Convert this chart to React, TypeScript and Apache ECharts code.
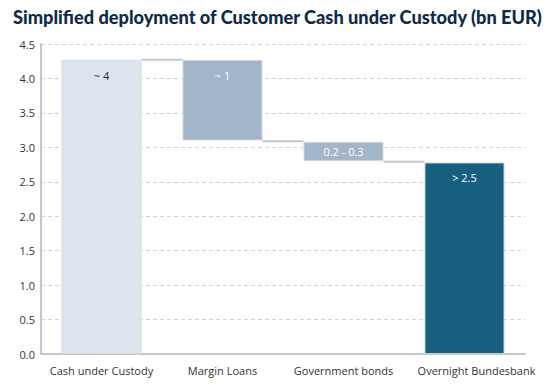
import React, { useEffect, useRef } from "react";
import * as echarts from "echarts";

const categories = ["Cash under Custody", "Margin Loans", "Government bonds", "Overnight Bundesbank"];
const baseValues = [0, 3.1, 2.8, 0];
const barValues = [4.27, 1.17, 0.28, 2.78];
const barLabels = ["~ 4", "~ 1", "0.2 - 0.3", "> 2.5"];
const connectorLevels = [4.27, 3.09, 2.79];
const yTicks = { min: 0, max: 4.5, interval: 0.5 };

const barColors = ["#dde5ee", "#a2b5c9", "#a2b5c9", "#165f80"];
const labelColors = ["#1f2d3d", "#ffffff", "#ffffff", "#ffffff"];

export default function App() {
  const ref = useRef<HTMLDivElement>(null);
  useEffect(() => {
    if (!ref.current) return;
    const chart = echarts.init(ref.current, null, { renderer: "svg" });
    const BW = 80;
    chart.setOption({
      animation: false,
      title: {
        text: "Simplified deployment of Customer Cash under Custody (bn EUR)",
        left: 8,
        top: 3,
        textStyle: { fontFamily: "Lato", fontWeight: 900, fontSize: 18.2, color: "#0e2a47" },
      },
      grid: { left: 41, right: 24, top: 44, bottom: 32, containLabel: false },
      xAxis: {
        type: "category",
        data: categories.map((c, i) =>
          i === categories.length - 1 ? { value: c, textStyle: { padding: [0, 0, 0, 24] } } : c
        ),
        axisLine: { lineStyle: { color: "#c4c7cc", width: 2 } },
        axisTick: { show: false },
        axisLabel: { color: "#333", fontSize: 11, fontFamily: "Open Sans", margin: 11, interval: 0 },
      },
      yAxis: {
        type: "value",
        min: yTicks.min,
        max: yTicks.max,
        interval: yTicks.interval,
        axisLine: { show: true, lineStyle: { color: "#c4c7cc", width: 2 } },
        axisTick: { show: false },
        axisLabel: {
          color: "#333",
          fontSize: 11,
          fontFamily: "Open Sans",
          margin: 6,
          formatter: (v: number) => v.toFixed(1),
        },
        splitLine: { lineStyle: { color: "#cfd2d6", type: [4, 3], width: 1 } },
      },
      series: [
        {
          type: "bar",
          stack: "w",
          barWidth: BW,
          silent: true,
          itemStyle: { color: "transparent" },
          data: baseValues,
        },
        {
          type: "bar",
          stack: "w",
          barWidth: BW,
          data: barValues.map((v, i) => ({
            value: v,
            itemStyle: {
              color: barColors[i],
              borderColor: i === 3 ? "#c9ced4" : "#d4d9df",
              borderWidth: 1,
            },
            label: {
              show: true,
              position: i === 2 ? "inside" : "insideTop",
              distance: 10,
              formatter: barLabels[i],
              color: labelColors[i],
              fontSize: 11,
              fontFamily: "Open Sans",
            },
          })),
        },
        {
          type: "custom",
          silent: true,
          data: connectorLevels.map((lv, i) => [i, lv]),
          renderItem: (params: any, api: any) => {
            const i = api.value(0);
            const lv = api.value(1);
            const p1 = api.coord([i, lv]);
            const p2 = api.coord([i + 1, lv]);
            return {
              type: "line",
              shape: { x1: p1[0] + BW / 2, y1: p1[1], x2: p2[0] - BW / 2, y2: p2[1] },
              style: { stroke: "#c4c7cc", lineWidth: 2 },
            };
          },
        },
      ],
    });
    return () => chart.dispose();
  }, []);
  return <div ref={ref} style={{ width: 549, height: 386, position: "absolute", left: 0, top: 0 }} />;
}
